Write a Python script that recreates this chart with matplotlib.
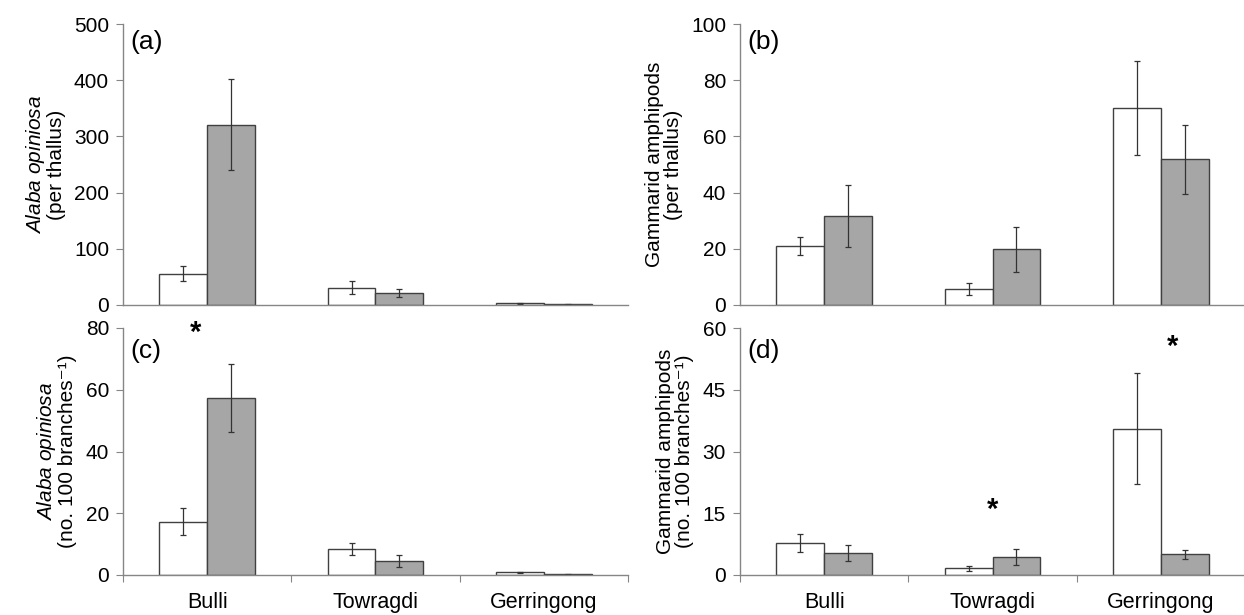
import numpy as np
import matplotlib
matplotlib.use("Agg")
import matplotlib.pyplot as plt

plt.rcParams['font.family'] = ['Liberation Sans', 'DejaVu Sans']
plt.rcParams['mathtext.fontset'] = 'custom'
plt.rcParams['mathtext.rm'] = 'Liberation Sans'
plt.rcParams['mathtext.it'] = 'Liberation Sans:italic'

sites = ["Bulli", "Towragdi", "Gerringong"]

# (a) Alaba opiniosa per thallus
a_white = [56, 31, 3]
a_white_err = [14, 11, 1]
a_grey = [321, 21, 1.2]
a_grey_err = [81, 7, 0.5]

# (b) Gammarid amphipods per thallus
b_white = [21.1, 5.8, 70.2]
b_white_err = [3.2, 2.2, 16.8]
b_grey = [31.7, 19.8, 51.8]
b_grey_err = [11, 8, 12.4]

# (c) Alaba opiniosa per 100 branches
c_white = [17.3, 8.5, 0.9]
c_white_err = [4.3, 2.0, 0.2]
c_grey = [57.3, 4.6, 0.2]
c_grey_err = [11, 2.0, 0.05]

# (d) Gammarid amphipods per 100 branches
d_white = [7.75, 1.6, 35.5]
d_white_err = [2.2, 0.6, 13.5]
d_grey = [5.4, 4.4, 5.0]
d_grey_err = [1.9, 2.0, 1.0]

# significance stars (x in category units, y in data units)
c_stars_x = [-0.07]
c_stars_y = [78.5]
d_stars_x = [1.0, 2.07]
d_stars_y = [15.7, 55.3]

edge = '#404040'
spine = '#868686'
grey = '#a6a6a6'

fig = plt.figure(figsize=(12.44, 6.15), dpi=100)
W, H = 1244, 615

def make_ax(x0, y0, x1, y1):
    return fig.add_axes([x0 / W, 1 - y1 / H, (x1 - x0) / W, (y1 - y0) / H])

ax_a = make_ax(123, 24, 628, 305)
ax_b = make_ax(740, 24, 1245, 305)
ax_c = make_ax(123, 328, 628, 575)
ax_d = make_ax(740, 328, 1245, 575)

x = np.arange(len(sites))
w = 0.284

def draw(ax, white, werr, gr, gerr, ymax, yticks, ylabel, tag, bottom_row, tag_y):
    ax.bar(x - w / 2, white, w, color='white', edgecolor=edge, linewidth=1)
    ax.bar(x + w / 2, gr, w, color=grey, edgecolor=edge, linewidth=1)
    ax.errorbar(x - w / 2, white, yerr=werr, fmt='none', ecolor='#333333',
                elinewidth=0.9, capsize=2.5, capthick=0.9)
    ax.errorbar(x + w / 2, gr, yerr=gerr, fmt='none', ecolor='#333333',
                elinewidth=0.9, capsize=2.5, capthick=0.9)
    ax.set_xlim(-0.5, 2.5)
    ax.set_ylim(0, ymax)
    ax.set_yticks(yticks)
    ax.tick_params(axis='y', labelsize=15, length=5, color=spine, pad=5)
    for s in ['top', 'right']:
        ax.spines[s].set_visible(False)
    for s in ['left', 'bottom']:
        ax.spines[s].set_color(spine)
        ax.spines[s].set_linewidth(1)
    if bottom_row:
        ax.set_xticks([-0.5, 0.5, 1.5, 2.5])
        ax.set_xticklabels([])
        ax.set_xticks(x, minor=True)
        ax.set_xticklabels(sites, minor=True, fontsize=15.5)
        ax.tick_params(axis='x', which='major', length=5, color=spine)
        ax.tick_params(axis='x', which='minor', length=0, pad=12)
    else:
        ax.set_xticks([])
    ax.set_ylabel(ylabel, fontsize=15, labelpad=6, linespacing=1.0)
    ax.text(0.014, tag_y, tag, transform=ax.transAxes, fontsize=19,
            ha='left', va='center')

draw(ax_a, a_white, a_white_err, a_grey, a_grey_err, 500, range(0, 501, 100),
     "$\\it{Alaba\\ opiniosa}$\n(per thallus)", "(a)", False, 0.935)
draw(ax_b, b_white, b_white_err, b_grey, b_grey_err, 100, range(0, 101, 20),
     "Gammarid amphipods\n(per thallus)", "(b)", False, 0.935)
draw(ax_c, c_white, c_white_err, c_grey, c_grey_err, 80, range(0, 81, 20),
     "$\\it{Alaba\\ opiniosa}$\n(no. 100 branches\u207b\u00b9)", "(c)", True, 0.905)
draw(ax_d, d_white, d_white_err, d_grey, d_grey_err, 60, range(0, 61, 15),
     "Gammarid amphipods\n(no. 100 branches\u207b\u00b9)", "(d)", True, 0.905)

for sx, sy in zip(c_stars_x, c_stars_y):
    ax_c.text(sx, sy, "*", fontsize=21, fontweight='bold', ha='center', va='center')
for sx, sy in zip(d_stars_x, d_stars_y):
    ax_d.text(sx, sy, "*", fontsize=21, fontweight='bold', ha='center', va='center')

fig.savefig("out.png", dpi=100)
